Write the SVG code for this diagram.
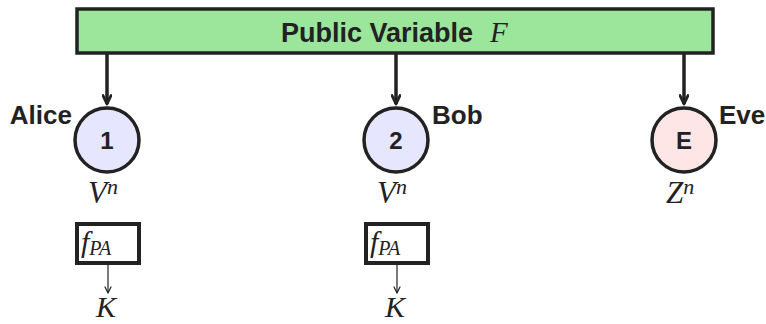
<svg xmlns="http://www.w3.org/2000/svg" width="766" height="324" viewBox="0 0 766 324">
  <defs>
    <marker id="arrowBig" viewBox="0 0 12 10" refX="10" refY="5" markerWidth="12" markerHeight="10" markerUnits="userSpaceOnUse" orient="auto">
      <path d="M1.5,1 L10,5 L1.5,9" fill="none" stroke="#222" stroke-width="2.8" stroke-linecap="round" stroke-linejoin="round"/>
    </marker>
    <marker id="arrowSmall" viewBox="0 0 8 8" refX="7" refY="4" markerWidth="8" markerHeight="8" markerUnits="userSpaceOnUse" orient="auto">
      <path d="M1,1 L7,4 L1,7" fill="none" stroke="#222" stroke-width="1.2" stroke-linecap="round" stroke-linejoin="round"/>
    </marker>
  </defs>
  <style>
    .box { fill: #9be69b; stroke: #222; stroke-width: 3.5; }
    .node { stroke: #222; stroke-width: 3.5; }
    .blue { fill: #e6e6ff; }
    .red { fill: #ffe6e6; }
    .sf { font-family: "Liberation Sans", Arial, sans-serif; font-weight: bold; fill: #222; }
    .math { font-family: "Liberation Serif", "Times New Roman", serif; font-style: italic; font-weight: normal; fill: #222; }
    .fbox { fill: #fff; stroke: #222; stroke-width: 4; }
    .conn { stroke: #222; stroke-width: 3.5; fill: none; }
    .thin { stroke: #222; stroke-width: 1.2; fill: none; }
  </style>

  <g id="public">
    <rect class="box" x="77" y="9" width="636" height="44"/>
    <text class="sf" x="281" y="42" font-size="27">Public Variable</text>
    <text class="math" x="490" y="42" font-size="29">F</text>
  </g>

  <g id="connectors">
    <line class="conn" x1="107" y1="53" x2="107" y2="104" marker-end="url(#arrowBig)"/>
    <line class="conn" x1="396" y1="53" x2="396" y2="104" marker-end="url(#arrowBig)"/>
    <line class="conn" x1="684" y1="53" x2="684" y2="104" marker-end="url(#arrowBig)"/>
    <line class="thin" x1="108" y1="265" x2="108" y2="293" marker-end="url(#arrowSmall)"/>
    <line class="thin" x1="397" y1="265" x2="397" y2="293" marker-end="url(#arrowSmall)"/>
  </g>

  <g id="alice">
    <circle class="node blue" cx="107" cy="140" r="32"/>
    <text class="sf" x="107" y="149" font-size="24" text-anchor="middle">1</text>
    <text class="sf" x="72" y="124" font-size="26" text-anchor="end">Alice</text>
    <text class="math" x="88" y="203" font-size="31">V<tspan font-size="22" dy="-9">n</tspan></text>
    <rect class="fbox" x="77" y="224" width="62" height="39"/>
    <text class="math" x="81" y="252" font-size="30">f<tspan font-size="20" dy="3">PA</tspan></text>
    <text class="math" x="96" y="317" font-size="30">K</text>
  </g>

  <g id="bob">
    <circle class="node blue" cx="396" cy="140" r="32"/>
    <text class="sf" x="396" y="149" font-size="24" text-anchor="middle">2</text>
    <text class="sf" x="432" y="124" font-size="26">Bob</text>
    <text class="math" x="377" y="203" font-size="31">V<tspan font-size="22" dy="-9">n</tspan></text>
    <rect class="fbox" x="366" y="224" width="62" height="39"/>
    <text class="math" x="370" y="252" font-size="30">f<tspan font-size="20" dy="3">PA</tspan></text>
    <text class="math" x="385" y="317" font-size="30">K</text>
  </g>

  <g id="eve">
    <circle class="node red" cx="684" cy="140" r="32"/>
    <text class="sf" x="684" y="149" font-size="24" text-anchor="middle">E</text>
    <text class="sf" x="719" y="124" font-size="26">Eve</text>
    <text class="math" x="666" y="203" font-size="31">Z<tspan font-size="22" dy="-9">n</tspan></text>
  </g>
</svg>
